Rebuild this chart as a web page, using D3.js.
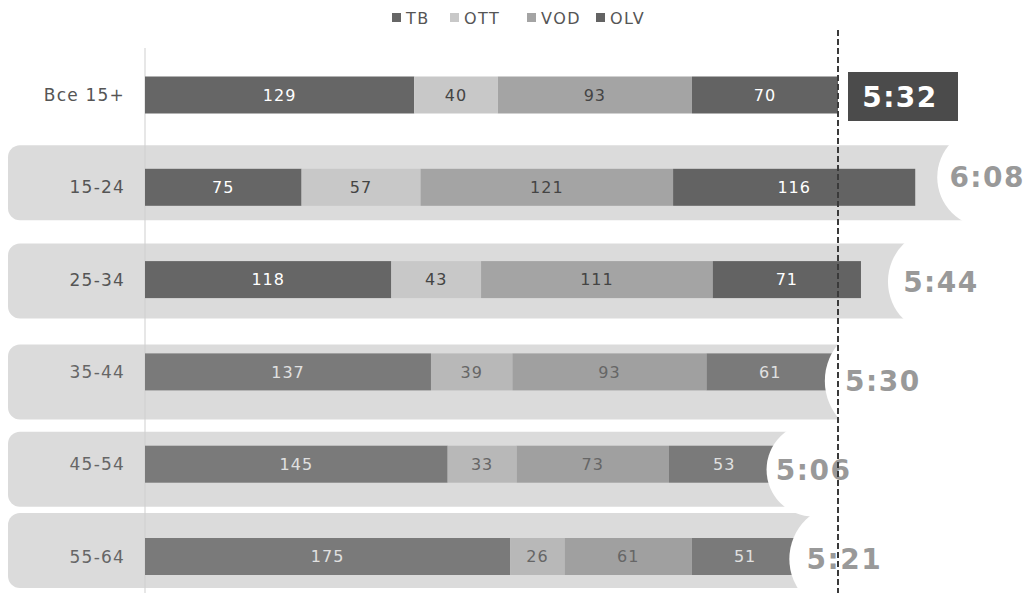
<!DOCTYPE html>
<html>
<head>
<meta charset="utf-8">
<script src="https://cdn.jsdelivr.net/npm/d3@7"></script>
<style>
  body { margin: 0; background: #fff; }
  text { font-family: "DejaVu Sans", Verdana, sans-serif; }
</style>
</head>
<body>
<div class="bar-chart-container"></div>
<script>
// Data.
const categories = ["Все 15+", "15-24", "25-34", "35-44", "45-54", "55-64"];
const seriesNames = ["ТВ", "OTT", "VOD", "OLV"];
const tv = [129, 75, 118, 137, 145, 175];
const ott = [40, 57, 43, 39, 33, 26];
const vod = [93, 121, 111, 93, 73, 61];
const olv = [70, 116, 71, 61, 53, 51];
const totalLabels = ["5:32", "6:08", "5:44", "5:30", "5:06", "5:21"];

// Layout tweaks per row (label shift, cut circle, band shift).
const labelDx = [65, 72, 80, 49, 34, 46];
const labelDy = [2, -10, 2, 9, 5.5, 2.5];
const cutR = [0, 50, 53, 58, 47, 55];
const bandDy = [0, -4.5, 1.5, 10, 5, -6];

// Colours: first three rows strong, the rest faded.
const strong = ["#666666", "#c8c8c8", "#a4a4a4", "#636363"];
const faded = ["#7a7a7a", "#b8b8b8", "#a0a0a0", "#7a7a7a"];
const strongText = ["#ffffff", "#444444", "#444444", "#ffffff"];
const fadedText = ["#e0e0e0", "#666666", "#666666", "#e0e0e0"];

const width = 1027;
const height = 593;

const svg = d3
  .select(".bar-chart-container")
  .append("svg")
  .attr("width", width)
  .attr("height", height);

// Stack the data.
const rows = categories.map((c, i) => ({
  category: c,
  values: [tv[i], ott[i], vod[i], olv[i]],
  total: tv[i] + ott[i] + vod[i] + olv[i],
  label: totalLabels[i],
  idx: i,
}));
rows.forEach((r) => {
  let acc = 0;
  r.segments = r.values.map((v, k) => {
    const seg = { k: k, x0: acc, x1: acc + v, value: v, row: r.idx };
    acc += v;
    return seg;
  });
});

// Scales.
const xScale = d3.scaleLinear().domain([0, rows[0].total]).range([145, 838]);
const yScale = d3.scalePoint().domain(categories).range([95, 556.5]);
const barH = 37;
const bandH = 75;

// Background bands.
const bands = svg.append("g").attr("class", "bands");
rows.slice(1).forEach((r) => {
  const cy = yScale(r.category);
  const lx = xScale(r.total) + labelDx[r.idx];
  bands
    .append("rect")
    .attr("x", 8)
    .attr("y", cy + bandDy[r.idx] - bandH / 2)
    .attr("width", lx - 8)
    .attr("height", bandH)
    .attr("rx", 12)
    .attr("fill", "#dbdbdb");
});

// Axis line.
svg
  .append("line")
  .attr("x1", xScale(0))
  .attr("x2", xScale(0))
  .attr("y1", 48)
  .attr("y2", height)
  .attr("stroke", "#cfcfcf")
  .attr("stroke-width", 1);

// Bars.
const barGroups = svg
  .append("g")
  .attr("class", "bars")
  .selectAll("g")
  .data(rows)
  .enter()
  .append("g");

barGroups
  .selectAll("rect")
  .data((d) => d.segments)
  .enter()
  .append("rect")
  .attr("x", (d) => xScale(d.x0))
  .attr("y", (d) => yScale(categories[d.row]) - barH / 2)
  .attr("width", (d) => xScale(d.x1) - xScale(d.x0))
  .attr("height", barH)
  .attr("fill", (d) => (d.row < 3 ? strong[d.k] : faded[d.k]));

barGroups
  .selectAll("text")
  .data((d) => d.segments)
  .enter()
  .append("text")
  .attr("x", (d) => (xScale(d.x0) + xScale(d.x1)) / 2)
  .attr("y", (d) => yScale(categories[d.row]))
  .attr("dy", "0.36em")
  .attr("text-anchor", "middle")
  .style("font-size", "16px")
  .style("letter-spacing", "1px")
  .attr("fill", (d) => (d.row < 3 ? strongText[d.k] : fadedText[d.k]))
  .text((d) => d.value);

// White cut circles around the total labels.
rows.slice(1).forEach((r) => {
  svg
    .append("circle")
    .attr("cx", xScale(r.total) + labelDx[r.idx])
    .attr("cy", yScale(r.category) + labelDy[r.idx])
    .attr("r", cutR[r.idx])
    .attr("fill", "#ffffff");
});

// Category labels.
svg
  .append("g")
  .selectAll("text")
  .data(rows)
  .enter()
  .append("text")
  .attr("x", 125)
  .attr("y", (d) => yScale(d.category))
  .attr("dy", "0.36em")
  .attr("text-anchor", "end")
  .style("font-size", "17px")
  .style("letter-spacing", "1.2px")
  .attr("fill", (d) => (d.idx < 3 ? "#555555" : "#666666"))
  .text((d) => d.category);

// Total labels.
const first = rows[0];
svg
  .append("rect")
  .attr("x", xScale(first.total) + labelDx[0] - 55)
  .attr("y", yScale(first.category) + labelDy[0] - 25)
  .attr("width", 110)
  .attr("height", 49)
  .attr("fill", "#4b4b4b");

svg
  .append("g")
  .selectAll("text")
  .data(rows)
  .enter()
  .append("text")
  .attr("x", (d) => xScale(d.total) + labelDx[d.idx] - (d.idx === 0 ? 3 : 0))
  .attr("y", (d) => yScale(d.category) + labelDy[d.idx])
  .attr("dy", "0.36em")
  .attr("text-anchor", "middle")
  .style("font-size", "28px")
  .style("font-weight", "bold")
  .style("letter-spacing", "1.5px")
  .attr("fill", (d) => (d.idx === 0 ? "#ffffff" : "#999999"))
  .text((d) => d.label);

// Average line.
svg
  .append("line")
  .attr("x1", xScale(first.total))
  .attr("x2", xScale(first.total))
  .attr("y1", 30)
  .attr("y2", height)
  .attr("stroke", "#3a3a3a")
  .attr("stroke-width", 2)
  .attr("stroke-dasharray", "6,3");

// Legend.
const legendX = [392, 450, 527, 596];
const legend = svg
  .append("g")
  .attr("class", "legend")
  .selectAll("g")
  .data(seriesNames)
  .enter()
  .append("g")
  .attr("transform", (d, i) => `translate(${legendX[i]}, 18)`);

legend
  .append("rect")
  .attr("x", 0)
  .attr("y", -5)
  .attr("width", 9)
  .attr("height", 9)
  .attr("fill", (d, i) => strong[i]);

legend
  .append("text")
  .attr("x", 14)
  .attr("y", 0)
  .attr("dy", "0.36em")
  .style("font-size", "16px")
  .style("letter-spacing", "1.5px")
  .attr("fill", "#555555")
  .text((d) => d);
</script>
</body>
</html>
